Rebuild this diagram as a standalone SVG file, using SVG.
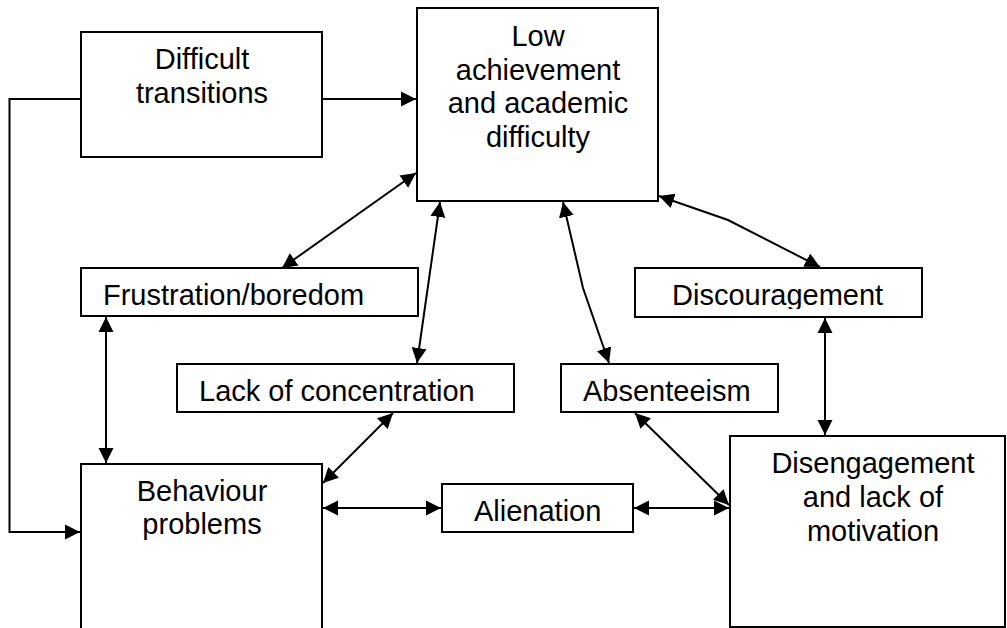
<svg xmlns="http://www.w3.org/2000/svg" width="1007" height="628" viewBox="0 0 1007 628">
<style>
.box{fill:#fff;stroke:#000;stroke-width:2}
.t{font-family:"Liberation Sans",Arial,sans-serif;font-size:29px;fill:#000}
.c{text-anchor:middle}
.ln{fill:none;stroke:#000;stroke-width:2}
</style>
<defs>
<marker id="ah" markerUnits="userSpaceOnUse" markerWidth="16" markerHeight="16" refX="15" refY="7.5" orient="auto-start-reverse" viewBox="0 0 16 15">
<path d="M0,0 L15,7.5 L0,15 z" fill="#000"/>
</marker>
<clipPath id="clipDisc"><rect x="635" y="268" width="287" height="41"/></clipPath>
</defs>
<rect width="1007" height="628" fill="#fff"/>
<g id="connectors">
<line class="ln" x1="322" y1="99" x2="416" y2="99" marker-end="url(#ah)"/>
<polyline class="ln" points="81,99 9.5,99 9.5,532 80,532" marker-end="url(#ah)"/>
<line class="ln" x1="282" y1="268" x2="416" y2="173" marker-start="url(#ah)" marker-end="url(#ah)"/>
<line class="ln" x1="440" y1="202" x2="417" y2="363" marker-start="url(#ah)" marker-end="url(#ah)"/>
<polyline class="ln" points="563,202 583,288 609,363" marker-start="url(#ah)" marker-end="url(#ah)"/>
<polyline class="ln" points="659,196 728,220 820,267" marker-start="url(#ah)" marker-end="url(#ah)"/>
<line class="ln" x1="106" y1="317" x2="106" y2="463" marker-start="url(#ah)" marker-end="url(#ah)"/>
<line class="ln" x1="825" y1="318" x2="825" y2="435" marker-start="url(#ah)" marker-end="url(#ah)"/>
<line class="ln" x1="393" y1="413" x2="323" y2="483" marker-start="url(#ah)" marker-end="url(#ah)"/>
<line class="ln" x1="323" y1="508" x2="441" y2="508" marker-start="url(#ah)" marker-end="url(#ah)"/>
<line class="ln" x1="634" y1="508" x2="729" y2="508" marker-start="url(#ah)" marker-end="url(#ah)"/>
<line class="ln" x1="635" y1="413" x2="729" y2="505" marker-start="url(#ah)" marker-end="url(#ah)"/>
</g>
<g id="difficult-transitions">
<rect class="box" x="81" y="32" width="241" height="125"/>
<text class="t c" x="202" y="69">Difficult</text>
<text class="t c" x="202" y="103">transitions</text>
</g>
<g id="low-achievement">
<rect class="box" x="417" y="8" width="241" height="193"/>
<text class="t c" x="538" y="46">Low</text>
<text class="t c" x="538" y="80">achievement</text>
<text class="t c" x="538" y="113">and academic</text>
<text class="t c" x="538" y="147">difficulty</text>
</g>
<g id="frustration">
<rect class="box" x="81" y="268" width="337" height="48"/>
<text class="t" x="103" y="305">Frustration/boredom</text>
</g>
<g id="discouragement">
<rect class="box" x="635" y="268" width="287" height="49"/>
<text class="t" x="672" y="305" clip-path="url(#clipDisc)">Discouragement</text>
</g>
<g id="lack-of-concentration">
<rect class="box" x="177" y="364" width="337" height="48"/>
<text class="t" x="199" y="401">Lack of concentration</text>
</g>
<g id="absenteeism">
<rect class="box" x="561" y="364" width="217" height="48"/>
<text class="t" x="583" y="401">Absenteeism</text>
</g>
<g id="behaviour-problems">
<rect class="box" x="81" y="464" width="241" height="180"/>
<text class="t c" x="202" y="501">Behaviour</text>
<text class="t c" x="202" y="534">problems</text>
</g>
<g id="alienation">
<rect class="box" x="442" y="484" width="191" height="48"/>
<text class="t" x="474" y="521">Alienation</text>
</g>
<g id="disengagement">
<rect class="box" x="730" y="436" width="275" height="191"/>
<text class="t c" x="873" y="473">Disengagement</text>
<text class="t c" x="873" y="507">and lack of</text>
<text class="t c" x="873" y="541">motivation</text>
</g>
</svg>
